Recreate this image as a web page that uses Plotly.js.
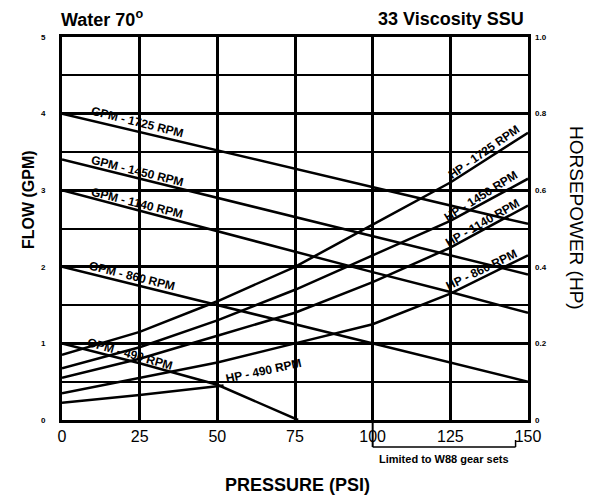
<!DOCTYPE html>
<html>
<head>
<meta charset="utf-8">
<script src="https://cdn.plot.ly/plotly-3.0.1.min.js"></script>
<style>html,body{margin:0;padding:0;background:#fff}#chart{width:593px;height:500px}</style>
</head>
<body>
<div id="chart"></div>
<script>
// Pressure readings (PSI)
var pressure = [0, 25, 50, 75, 100, 125, 150];
var pressure490 = [0, 25, 50, 76];
var pressureHP490 = [0, 25, 52];

// Flow (GPM)
var flow1725 = [4.0, 3.76, 3.52, 3.28, 3.04, 2.80, 2.56];
var flow1450 = [3.4, 3.15, 2.90, 2.65, 2.40, 2.15, 1.90];
var flow1140 = [3.0, 2.73, 2.47, 2.20, 1.93, 1.67, 1.40];
var flow860  = [2.0, 1.75, 1.50, 1.25, 1.00, 0.75, 0.50];
var flow490  = [1.0, 0.74, 0.46, 0.0];

// Horsepower (HP)
var hp1725 = [0.17, 0.23, 0.31, 0.40, 0.51, 0.62, 0.75];
var hp1450 = [0.135, 0.19, 0.26, 0.34, 0.43, 0.52, 0.63];
var hp1140 = [0.11, 0.16, 0.22, 0.28, 0.36, 0.45, 0.56];
var hp860  = [0.07, 0.11, 0.15, 0.20, 0.25, 0.33, 0.43];
var hp490  = [0.045, 0.065, 0.09];

var xTicks = [0, 25, 50, 75, 100, 125, 150];
var xTickText = ['0', '25', '50', '75', '100', '125', '150'];
var yTicks = [0, 1, 2, 3, 4, 5];
var yTickText = ['0', '1', '2', '3', '4', '5'];
var y2Ticks = [0, 0.2, 0.4, 0.6, 0.8, 1.0];
var y2TickText = ['0', '0.2', '0.4', '0.6', '0.8', '1.0'];

var NARROW = 'Liberation Sans Narrow, Arial Narrow, Liberation Sans, Arial, sans-serif';
var SANS = 'Liberation Sans, Arial, sans-serif';
var lineStyle = {color: 'black', width: 2.5};

function tr(x, y, axis) {
  return {x: x, y: y, mode: 'lines', line: lineStyle, yaxis: axis || 'y',
          hoverinfo: 'skip', showlegend: false, type: 'scatter'};
}

var data = [
  tr(pressure, flow1725), tr(pressure, flow1450), tr(pressure, flow1140),
  tr(pressure, flow860), tr(pressure490, flow490),
  tr(pressure, hp1725, 'y2'), tr(pressure, hp1450, 'y2'), tr(pressure, hp1140, 'y2'),
  tr(pressure, hp860, 'y2'), tr(pressureHP490, hp490, 'y2')
];

function px2x(px) { return (px - 62) / 466; }
function py2y(py) { return (420 - py) / 383; }

function lab(text, cx, cy, ang, size) {
  return {text: '<b>' + text + '</b>', xref: 'paper', yref: 'paper',
          x: px2x(cx), y: py2y(cy), showarrow: false, textangle: ang,
          font: {family: NARROW, size: size || 12, color: 'black'},
          xanchor: 'center', yanchor: 'middle'};
}

var annotations = [
  {text: '<b>Water 70<sup>o</sup></b>', xref: 'paper', yref: 'paper', x: px2x(59), y: py2y(19),
   xanchor: 'left', yanchor: 'middle', showarrow: false,
   font: {family: SANS, size: 18, color: 'black'}},
  {text: '<b>33 Viscosity SSU</b>', xref: 'paper', yref: 'paper', x: px2x(526), y: py2y(19),
   xanchor: 'right', yanchor: 'middle', showarrow: false,
   font: {family: SANS, size: 18, color: 'black'}},
  {text: '<b>FLOW (GPM)</b>', xref: 'paper', yref: 'paper', x: px2x(28), y: py2y(200),
   xanchor: 'center', yanchor: 'middle', showarrow: false, textangle: -90,
   font: {family: NARROW, size: 16, color: 'black'}},
  {text: 'HORSEPOWER (HP)', xref: 'paper', yref: 'paper', x: px2x(577), y: py2y(218),
   xanchor: 'center', yanchor: 'middle', showarrow: false, textangle: 90,
   font: {family: SANS, size: 19, color: 'black'}},
  {text: '<b>PRESSURE (PSI)</b>', xref: 'paper', yref: 'paper', x: px2x(297), y: py2y(485),
   xanchor: 'center', yanchor: 'middle', showarrow: false,
   font: {family: NARROW, size: 18, color: 'black'}},
  {text: '<b>Limited to W88 gear sets</b>', xref: 'paper', yref: 'paper', x: px2x(444), y: py2y(459),
   xanchor: 'center', yanchor: 'middle', showarrow: false,
   font: {family: SANS, size: 11, color: 'black'}},
  lab('GPM - 1725 RPM', 137, 122, 14),
  lab('GPM - 1450 RPM', 137, 171, 14),
  lab('GPM - 1140 RPM', 137, 203, 14),
  lab('GPM - 860 RPM', 132, 276, 14),
  lab('GPM - 490 RPM', 130, 354, 16),
  lab('HP - 1725 RPM', 484, 152, -35),
  lab('HP - 1450 RPM', 481, 196, -32),
  lab('HP - 1140 RPM', 482, 223, -30),
  lab('HP - 860 RPM', 481, 270, -26),
  lab('HP - 490 RPM', 263, 371, -12)
];

var shapes = [
  {type: 'line', xref: 'x', yref: 'paper', x0: 100, x1: 100, y0: 0, y1: py2y(447), line: {color: 'black', width: 2}},
  {type: 'line', xref: 'x', yref: 'paper', x0: 100, x1: 146, y0: py2y(447), y1: py2y(447), line: {color: 'black', width: 1.5}},
  {type: 'line', xref: 'x', yref: 'paper', x0: 146, x1: 146, y0: py2y(440), y1: py2y(447), line: {color: 'black', width: 1.5}}
];

var layout = {
  width: 593, height: 500,
  margin: {l: 62, r: 65, t: 37, b: 80},
  paper_bgcolor: 'white', plot_bgcolor: 'white',
  showlegend: false,
  xaxis: {range: [0, 150], tickvals: xTicks, ticktext: xTickText,
          showgrid: true, gridcolor: 'black', gridwidth: 3,
          showline: true, linecolor: 'black', linewidth: 3, mirror: true,
          zeroline: false, ticks: '', ticklabelstandoff: 0,
          tickfont: {family: SANS, size: 16, color: 'black'}},
  yaxis: {range: [0, 5], tickvals: yTicks, ticktext: yTickText,
          showgrid: true, gridcolor: 'black', gridwidth: 3,
          minor: {dtick: 0.5, showgrid: true, gridcolor: 'black', gridwidth: 2},
          showline: true, linecolor: 'black', linewidth: 3, mirror: true,
          zeroline: false, ticks: '', ticklabelstandoff: 12,
          tickfont: {family: SANS, size: 8, color: 'black', weight: 'bold'}},
  yaxis2: {range: [0, 1], overlaying: 'y', side: 'right', tickvals: y2Ticks, ticktext: y2TickText,
           showgrid: false, zeroline: false, showline: false, ticks: '', ticklabelstandoff: 6,
           tickfont: {family: SANS, size: 8, color: 'black', weight: 'bold'}},
  annotations: annotations,
  shapes: shapes
};

Plotly.newPlot('chart', data, layout, {staticPlot: true, displayModeBar: false});
</script>
</body>
</html>
